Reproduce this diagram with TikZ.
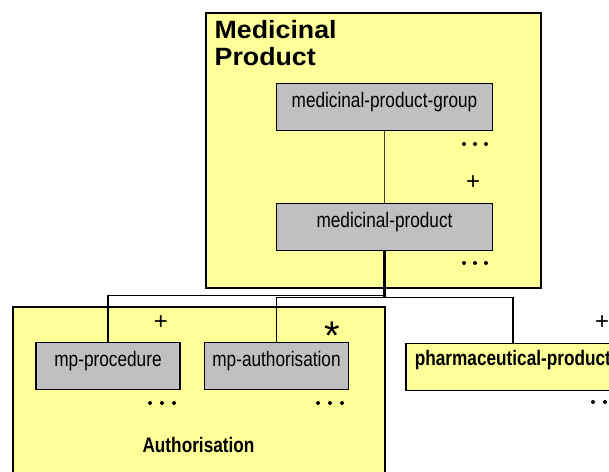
\documentclass[tikz,border=0pt]{standalone}
\usepackage{fontspec}
\setmainfont{Liberation Sans}
\newfontfamily\nar[FakeStretch=0.82]{Liberation Sans}
\newfontfamily\wid[FakeStretch=1.07]{Liberation Sans}
\usetikzlibrary{calc}
\definecolor{pale}{HTML}{FFFF99}
\definecolor{boxgray}{HTML}{C0C0C0}
\begin{document}
\begin{tikzpicture}[x=1pt,y=-1pt,
  container/.style={draw=black, fill=pale, line width=1.6pt, inner sep=0pt, anchor=north west},
  element/.style={draw=black, fill=boxgray, line width=1.6pt, inner sep=0pt,
    minimum height=47pt, font=\nar\fontsize{21}{21}\selectfont, text height=10pt, text depth=10pt},
  yelement/.style={element, fill=pale, font=\nar\bfseries\fontsize{21}{21}\selectfont},
  conn/.style={draw=black, line width=1.4pt},
  thinconn/.style={draw=black!75, line width=1pt},
  trunk/.style={draw=black, line width=2.2pt},
  mult/.style={inner sep=0pt, font=\fontsize{24}{24}\selectfont},
  dot/.style={fill=black}
]
\path[use as bounding box, clip] (0,0) rectangle (609,471);
\fill[white] (0,0) rectangle (609,471);

% containers
\node[container, minimum width=335pt, minimum height=275pt] (mpcont) at (205,12) {};
\node[container, minimum width=372pt, minimum height=220pt] (authcont) at (12,306) {};

% titles
\node[anchor=north west, inner sep=0pt, align=left,
  font=\wid\bfseries\fontsize{25}{27}\selectfont] (mptitle) at (214.5,20) {Medicinal\\Product};
\node[anchor=base, inner sep=0pt, font=\nar\bfseries\fontsize{21}{21}\selectfont]
  (authtitle) at (198.5,452) {Authorisation};

% element boxes
\node[element, minimum width=216pt] (grp) at (384.5,107) {medicinal-product-group};
\node[element, minimum width=216pt] (mp) at (384.5,227) {medicinal-product};
\node[element, minimum width=144pt] (proc) at (108,366) {mp-procedure};
\node[element, minimum width=144pt] (autho) at (276.5,366) {mp-authorisation};
\node[yelement, anchor=north west, inner xsep=9pt, text height=10pt, text depth=12pt]
  (pharma) at (405,342.5) {\makebox[225pt][l]{pharmaceutical-product}};

% connectors
\coordinate (j1) at ($(mp.south)+(0,44)$);
\coordinate (j2) at ($(mp.south)+(0,46)$);
\coordinate (pharmatop) at ($(pharma.north west)+(108,0)$);
\draw[thinconn] (grp.south) -- (mp.north);
\draw[trunk] (mp.south) -- (j2);
\draw[conn] (j1) -| (proc.north);
\draw[conn] (j2) -| (autho.north);
\draw[conn] (j2) -| (pharmatop);

% multiplicities
\node[mult] (m1) at (473,183) {+};
\node[mult] (m2) at (161,323) {+};
\node[mult] (m3) at (602,323) {+};
\node[inner sep=0pt, font=\fontsize{40}{40}\selectfont] (m4) at (332.5,326)
  {\raisebox{-23pt}[6pt][6pt]{*}};

% ellipsis dots
\foreach \x/\y in {464/144,475/144,486/144, 464/263,475/263,486/263,
  150/403,162/403,174/403, 318/403,330/403,342/403, 593/402,605/402,617/402}
  \fill[dot] (\x,\y) circle (2pt);
\end{tikzpicture}
\end{document}
